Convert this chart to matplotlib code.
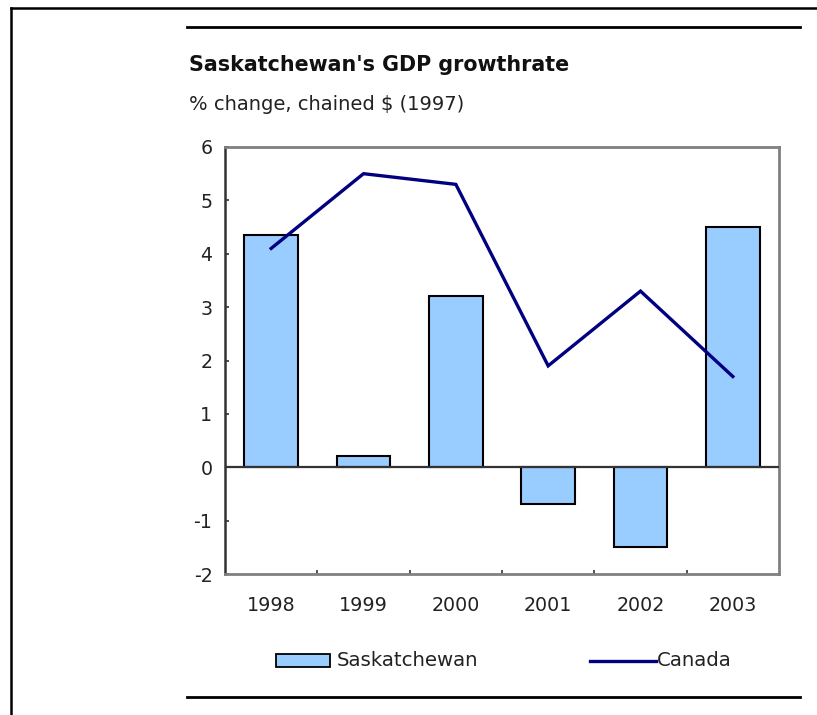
import matplotlib
matplotlib.use("Agg")
import matplotlib.pyplot as plt
from matplotlib.lines import Line2D
from matplotlib.patches import Rectangle
import numpy as np

plt.rcParams['font.family'] = ['DejaVu Sans']

years = ["1998", "1999", "2000", "2001", "2002", "2003"]
saskatchewan = [4.35, 0.22, 3.2, -0.68, -1.5, 4.5]
canada = [4.1, 5.5, 5.3, 1.9, 3.3, 1.7]
y_ticks = [-2, -1, 0, 1, 2, 3, 4, 5, 6]

W, H = 817, 715
fig = plt.figure(figsize=(W / 100, H / 100), dpi=100)


def fx(px):
    return px / W


def fy(py):
    return 1 - py / H


# outer frame (left and top edges)
fig.add_artist(Line2D([fx(11), fx(11)], [fy(8), fy(715)], color="black", lw=1.8))
fig.add_artist(Line2D([fx(11), fx(817)], [fy(8), fy(8)], color="black", lw=1.8))
# horizontal rules above and below the chart
fig.add_artist(Line2D([fx(187), fx(800)], [fy(27), fy(27)], color="black", lw=2))
fig.add_artist(Line2D([fx(187), fx(800)], [fy(697), fy(697)], color="black", lw=2))

fig.text(fx(189), fy(65), "Saskatchewan's GDP growthrate", fontsize=14.9,
         fontweight="bold", va="center", ha="left", color="#111111")
fig.text(fx(189), fy(104), "% change, chained $ (1997)", fontsize=14,
         va="center", ha="left", color="#222222")

ax = fig.add_axes([fx(225), fy(574), fx(779) - fx(225), fy(147) - fy(574)])
x = np.arange(len(years))
ax.bar(x, saskatchewan, width=0.58, color="#99CCFF", edgecolor="black",
       linewidth=1.5, zorder=2)
ax.axhline(0, color="#333333", lw=1.6, zorder=3)
ax.plot(x, canada, color="#000080", lw=2.4, zorder=4, solid_joinstyle="miter")

ax.set_xlim(-0.5, len(years) - 0.5)
ax.set_ylim(-2, 6)
ax.set_yticks(y_ticks)
ax.set_yticklabels([str(v) for v in y_ticks], fontsize=13.7, color="#222222")
ax.set_xticks(x)
ax.set_xticklabels(years, fontsize=13.7, color="#222222")
ax.set_xticks(np.arange(0.5, len(years) - 0.5, 1), minor=True)
ax.tick_params(axis="x", which="major", length=0, pad=16)
ax.tick_params(axis="x", which="minor", direction="in", length=3, width=1.2,
               color="#333333")
ax.tick_params(axis="y", direction="in", length=3, width=1.2, color="#333333",
               pad=9)

ax.spines["left"].set_color("#333333")
ax.spines["left"].set_linewidth(1.8)
for side in ("top", "right", "bottom"):
    ax.spines[side].set_color("#808080")
    ax.spines[side].set_linewidth(2)

# legend
fig.add_artist(Rectangle((fx(276), fy(667)), fx(330) - fx(276), fy(654) - fy(667),
                         facecolor="#99CCFF", edgecolor="black", lw=1.3))
fig.text(fx(337), fy(661), "Saskatchewan", fontsize=14.2, va="center", ha="left",
         color="#222222")
fig.add_artist(Line2D([fx(590), fx(656)], [fy(661), fy(661)], color="#000080", lw=2.4))
fig.text(fx(657), fy(661), "Canada", fontsize=14.2, va="center", ha="left",
         color="#222222")

fig.savefig("out.png", dpi=100, facecolor="white")
